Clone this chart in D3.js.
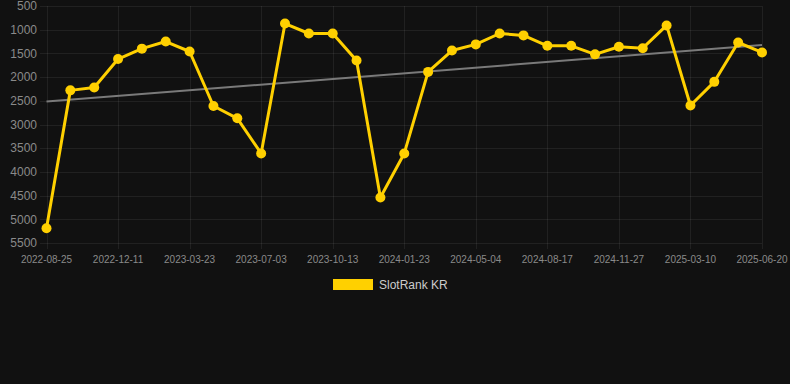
<!DOCTYPE html>
<html>
<head>
<meta charset="utf-8">
<script src="https://cdn.jsdelivr.net/npm/d3@7"></script>
<style>
  html, body { margin: 0; padding: 0; background: #111111; }
  svg { display: block; font-family: Arial, "Liberation Sans", sans-serif; }
</style>
</head>
<body>
<svg id="chart"></svg>
<script>
const dates = [
  '2022-08-25', '2022-09-30', '2022-11-05', '2022-12-11', '2023-01-14', '2023-02-17',
  '2023-03-23', '2023-04-26', '2023-05-30', '2023-07-03', '2023-08-06', '2023-09-09',
  '2023-10-13', '2023-11-16', '2023-12-20', '2024-01-23', '2024-02-26', '2024-03-31',
  '2024-05-04', '2024-06-08', '2024-07-13', '2024-08-17', '2024-09-20', '2024-10-24',
  '2024-11-27', '2024-12-31', '2025-02-03', '2025-03-10', '2025-04-13', '2025-05-17',
  '2025-06-20'
]
const ranks = [
  5190, 2280, 2220, 1620, 1400, 1250,
  1460, 2610, 2870, 3610, 870, 1080,
  1080, 1650, 4540, 3610, 1890, 1440,
  1310, 1080, 1120, 1340, 1340, 1520,
  1360, 1390, 910, 2600, 2100, 1270,
  1480
]
const yTicks = [500, 1000, 1500, 2000, 2500, 3000, 3500, 4000, 4500, 5000, 5500]
const seriesName = 'SlotRank KR'

const width = 790, height = 384
const svg = d3.select('#chart').attr('width', width).attr('height', height)

const x = d3.scalePoint().domain(dates).range([46.5, 762])
const y = d3.scaleLinear().domain([500, 5500]).range([6, 243])

const grid = 'rgba(255,255,255,0.07)'

// horizontal grid + y labels
svg.append('g').selectAll('line')
  .data(yTicks)
  .enter().append('line')
  .attr('x1', 40).attr('x2', 762)
  .attr('y1', d => Math.round(y(d)) + 0.5).attr('y2', d => Math.round(y(d)) + 0.5)
  .attr('stroke', grid)

svg.append('g').selectAll('text')
  .data(yTicks)
  .enter().append('text')
  .attr('x', 37)
  .attr('y', d => y(d))
  .attr('dy', '0.35em')
  .attr('text-anchor', 'end')
  .attr('font-size', '12px')
  .attr('fill', '#8a8a8a')
  .text(d => d)

// vertical grid + x labels, every third date
const shown = dates.filter((d, i) => i % 3 === 0)
svg.append('g').selectAll('line')
  .data(shown)
  .enter().append('line')
  .attr('x1', d => Math.round(x(d)) + 0.5).attr('x2', d => Math.round(x(d)) + 0.5)
  .attr('y1', 6).attr('y2', 249)
  .attr('stroke', grid)

svg.append('g').selectAll('text')
  .data(shown)
  .enter().append('text')
  .attr('x', d => x(d))
  .attr('y', 259)
  .attr('dy', '0.35em')
  .attr('text-anchor', 'middle')
  .attr('font-size', '10px')
  .attr('fill', '#8a8a8a')
  .text(d => d)

// linear trend (least squares over index)
const n = ranks.length
const mx = d3.mean(ranks, (d, i) => i)
const my = d3.mean(ranks)
const slope = d3.sum(ranks, (d, i) => (i - mx) * (d - my)) / d3.sum(ranks, (d, i) => (i - mx) * (i - mx))
const icpt = my - slope * mx
svg.append('line')
  .attr('x1', x(dates[0])).attr('y1', y(icpt))
  .attr('x2', x(dates[n - 1])).attr('y2', y(icpt + slope * (n - 1)))
  .attr('stroke', '#7a7a7a')
  .attr('stroke-width', 2)

// series
const line = d3.line()
  .x((d, i) => x(dates[i]))
  .y(d => y(d))

svg.append('path')
  .datum(ranks)
  .attr('d', line)
  .attr('fill', 'none')
  .attr('stroke', '#FFD000')
  .attr('stroke-width', 3)
  .attr('stroke-linejoin', 'round')

svg.append('g').selectAll('circle')
  .data(ranks)
  .enter().append('circle')
  .attr('cx', (d, i) => x(dates[i]))
  .attr('cy', d => y(d))
  .attr('r', 5)
  .attr('fill', '#FFD000')

// legend
svg.append('rect')
  .attr('x', 333).attr('y', 279)
  .attr('width', 40).attr('height', 11)
  .attr('fill', '#FFD000')

svg.append('text')
  .attr('x', 379).attr('y', 285)
  .attr('dy', '0.35em')
  .attr('font-size', '12px')
  .attr('fill', '#cccccc')
  .text(seriesName)
</script>
</body>
</html>
